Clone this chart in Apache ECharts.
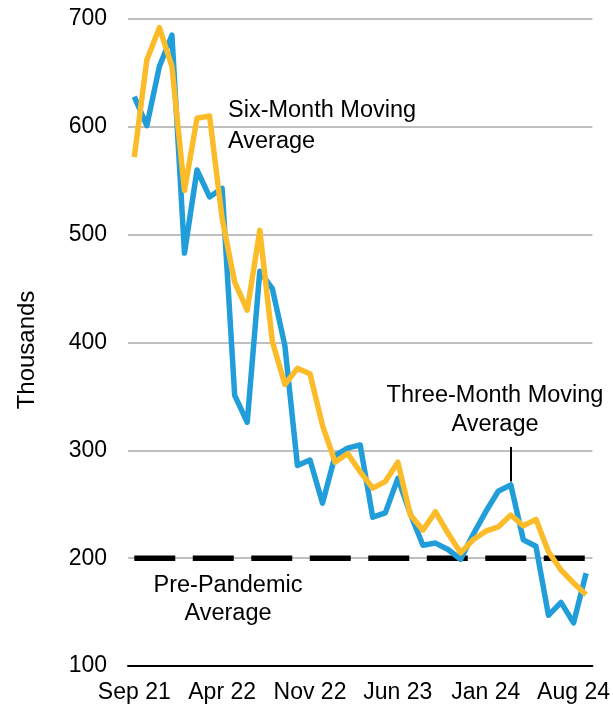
<!DOCTYPE html>
<html>
<head>
<meta charset="utf-8">
<script src="https://cdn.jsdelivr.net/npm/echarts@6/dist/echarts.min.js"></script>
<style>
html,body{margin:0;padding:0;background:#fff;}
#chart{width:613px;height:708px;}
</style>
</head>
<body>
<div id="chart"></div>
<script>
// Months Sep 21 .. Sep 24
const months = [
  'Sep 21','Oct 21','Nov 21','Dec 21','Jan 22','Feb 22','Mar 22','Apr 22','May 22','Jun 22','Jul 22','Aug 22',
  'Sep 22','Oct 22','Nov 22','Dec 22','Jan 23','Feb 23','Mar 23','Apr 23','May 23','Jun 23','Jul 23','Aug 23',
  'Sep 23','Oct 23','Nov 23','Dec 23','Jan 24','Feb 24','Mar 24','Apr 24','May 24','Jun 24','Jul 24','Aug 24','Sep 24'
];
// Three-month moving average (blue), thousands
const threeMonthAvg = [
  628,601,656,685,483,560,535,543,351,326,466,450,
  397,286,291,251,295,302,305,238,242,274,241,212,
  214,208,199,222,243,262,268,217,211,147,159,140,186
];
// Six-month moving average (yellow), thousands
const sixMonthAvg = [
  572,662,692,656,541,608,610,515,456,430,504,401,
  361,376,371,323,289,297,280,265,271,289,240,226,
  243,223,205,217,225,229,240,230,236,206,189,177,166
];
const prePandemicAvg = 200;
const yTicks = { min: 100, max: 700, interval: 100 };
const yAxisTitle = 'Thousands';
const FONT = '"Liberation Sans", Arial, sans-serif';

const chart = echarts.init(document.getElementById('chart'), null, { renderer: 'canvas' });

chart.setOption({
  animation: false,
  backgroundColor: '#ffffff',
  grid: { left: 128, right: 20, top: 19, bottom: 42, containLabel: false },
  xAxis: {
    type: 'category',
    data: months,
    boundaryGap: true,
    axisLine: { show: true, lineStyle: { color: '#000000', width: 2 } },
    axisTick: { show: false },
    axisLabel: { interval: 6, color: '#000000', fontSize: 23, fontFamily: FONT, margin: 15 },
    splitLine: { show: false }
  },
  yAxis: {
    type: 'value',
    min: yTicks.min, max: yTicks.max, interval: yTicks.interval,
    axisLine: { show: false },
    axisTick: { show: false },
    axisLabel: { color: '#000000', fontSize: 23, fontFamily: FONT, margin: 21 },
    splitLine: { show: true, lineStyle: { color: '#BFBFBF', width: 2 } }
  },
  series: [
    {
      name: 'Pre-Pandemic Average',
      type: 'line',
      data: months.map(() => prePandemicAvg),
      symbol: 'none',
      z: 2,
      lineStyle: { color: '#000000', width: 5.5, type: [41, 17.5], cap: 'butt' }
    },
    {
      name: 'Three-Month Moving Average',
      type: 'line',
      data: threeMonthAvg,
      symbol: 'none',
      z: 3,
      lineStyle: { color: '#219ED9', width: 5.5, join: 'round' },
      markLine: {
        silent: true,
        symbol: 'none',
        label: { show: false },
        lineStyle: { color: '#000000', width: 2, type: 'solid' },
        data: [[ { coord: [30, 303] }, { coord: [30, 271] } ]]
      }
    },
    {
      name: 'Six-Month Moving Average',
      type: 'line',
      data: sixMonthAvg,
      symbol: 'none',
      z: 4,
      lineStyle: { color: '#FCBC2A', width: 5.5, join: 'round' }
    }
  ],
  graphic: [
    { type: 'text', x: 27, y: 350, rotation: Math.PI / 2,
      style: { text: yAxisTitle, fill: '#000', font: '24px ' + FONT, align: 'center', verticalAlign: 'middle' } },
    { type: 'text', x: 228, y: 111,
      style: { text: 'Six-Month Moving', fill: '#000', font: '23.5px ' + FONT, align: 'left', verticalAlign: 'middle' } },
    { type: 'text', x: 228, y: 142,
      style: { text: 'Average', fill: '#000', font: '23.5px ' + FONT, align: 'left', verticalAlign: 'middle' } },
    { type: 'text', x: 495, y: 396,
      style: { text: 'Three-Month Moving', fill: '#000', font: '23.5px ' + FONT, align: 'center', verticalAlign: 'middle' } },
    { type: 'text', x: 495, y: 425,
      style: { text: 'Average', fill: '#000', font: '23.5px ' + FONT, align: 'center', verticalAlign: 'middle' } },
    { type: 'text', x: 228, y: 586,
      style: { text: 'Pre-Pandemic', fill: '#000', font: '23.5px ' + FONT, align: 'center', verticalAlign: 'middle' } },
    { type: 'text', x: 228, y: 614,
      style: { text: 'Average', fill: '#000', font: '23.5px ' + FONT, align: 'center', verticalAlign: 'middle' } }
  ]
});
</script>
</body>
</html>
